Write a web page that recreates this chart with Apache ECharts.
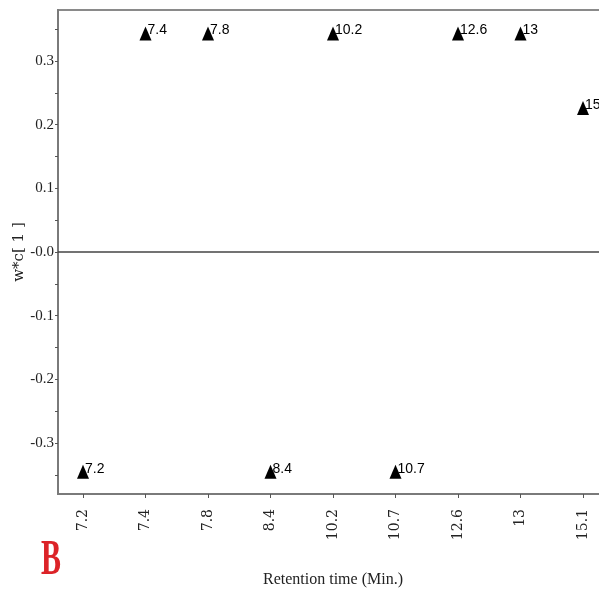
<!DOCTYPE html>
<html>
<head>
<meta charset="utf-8">
<script src="https://cdn.jsdelivr.net/npm/echarts@6/dist/echarts.min.js"></script>
<style>
  html, body { margin: 0; padding: 0; background: #fff; }
  #chart { width: 599px; height: 590px; }
</style>
</head>
<body>
<div id="chart"></div>
<script>
// retention times (category labels on x)
const times = ['7.2', '7.4', '7.8', '8.4', '10.2', '10.7', '12.6', '13', '15.1']
// loading w*c[1] for each retention time
const weights = [-0.345, 0.343, 0.343, -0.345, 0.343, -0.345, 0.343, 0.343, 0.226]
// y tick labels and minor ticks
const yLabels = [-0.3, -0.2, -0.1, 0, 0.1, 0.2, 0.3]
const yTicks = [-0.35, -0.3, -0.25, -0.2, -0.15, -0.1, -0.05, 0, 0.05, 0.1, 0.15, 0.2, 0.25, 0.3, 0.35]

const xIdx = times.map((t, i) => i)
const points = weights.map((w, i) => [i, w])

const chart = echarts.init(document.getElementById('chart'))

const option = {
    backgroundColor: '#fff',
    animation: false,
    grid: {
        left: 58,
        top: 10,
        width: 550,
        height: 484,
        outerBoundsMode: 'none',
        containLabel: false,
        show: true,
        borderColor: '#8a8a8a',
        borderWidth: 2,
        backgroundColor: 'transparent'
    },
    xAxis: {
        type: 'value',
        min: -0.4,
        max: 8.4,
        name: 'Retention time (Min.)',
        nameLocation: 'middle',
        nameGap: 78,
        nameMoveOverlap: false,
        nameTextStyle: {
            fontFamily: 'Liberation Serif',
            fontSize: 16,
            color: '#222'
        },
        axisLine: { show: true, onZero: false, lineStyle: { color: '#7a7a7a', width: 2 } },
        axisTick: {
            show: true,
            customValues: xIdx,
            length: 4,
            lineStyle: { color: '#555' }
        },
        axisLabel: {
            customValues: xIdx,
            rotate: 90,
            margin: 15,
            fontFamily: 'DejaVu Serif',
            fontSize: 14,
            color: '#222',
            formatter: function (v) {
                return times[Math.round(v)]
            }
        },
        splitLine: { show: false }
    },
    yAxis: {
        type: 'value',
        min: -0.38,
        max: 0.38,
        name: 'w*c[ 1 ]',
        nameLocation: 'middle',
        nameGap: 31,
        nameMoveOverlap: false,
        nameTextStyle: {
            fontFamily: 'DejaVu Serif',
            fontSize: 15,
            color: '#222'
        },
        axisLine: { show: true, onZero: false, lineStyle: { color: '#7a7a7a', width: 2 } },
        axisTick: {
            show: true,
            customValues: yTicks,
            length: 3,
            lineStyle: { color: '#555' }
        },
        axisLabel: {
            customValues: yLabels,
            margin: 4,
            fontFamily: 'Liberation Serif',
            fontSize: 15,
            color: '#222',
            formatter: function (v) {
                if (Math.abs(v) < 1e-9) {
                    return '-0.0'
                }
                return v.toFixed(1)
            }
        },
        splitLine: { show: false }
    },
    series: [{
        type: 'scatter',
        data: points,
        symbol: 'triangle',
        symbolSize: [12, 14],
        itemStyle: { color: '#000', opacity: 1 },
        label: {
            show: true,
            position: [8, -3],
            fontFamily: 'Liberation Sans',
            fontSize: 14,
            color: '#000',
            formatter: function (p) {
                return times[p.data[0]]
            }
        },
        markLine: {
            silent: true,
            symbol: 'none',
            label: { show: false },
            lineStyle: { color: '#444', width: 1.5, type: 'solid' },
            data: [{ yAxis: 0 }]
        }
    }],
    graphic: [{
        type: 'text',
        left: 41,
        top: 536,
        scaleX: 0.6,
        style: {
            text: 'B',
            fontFamily: 'Liberation Serif',
            fontWeight: 'bold',
            fontSize: 50,
            fill: '#dc2328'
        }
    }]
}

chart.setOption(option)
</script>
</body>
</html>
